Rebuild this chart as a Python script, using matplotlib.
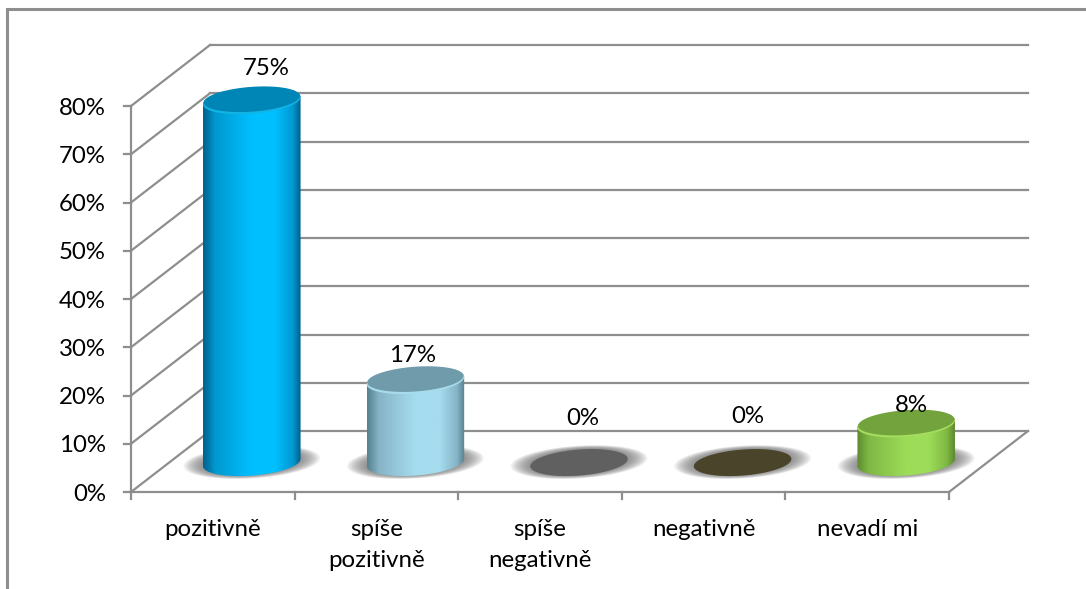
import numpy as np
import matplotlib
matplotlib.use('Agg')
import matplotlib.pyplot as plt
from matplotlib.patches import Polygon
from matplotlib.colors import to_rgb

categories = ['pozitivně', 'spíše\npozitivně', 'spíše\nnegativně', 'negativně', 'nevadí mi']
values = [75, 17, 0, 0, 8]
value_labels = ['75%', '17%', '0%', '0%', '8%']
y_ticks = [0, 10, 20, 30, 40, 50, 60, 70, 80]

# side shade, mid tone, highlight, cap, rim
bar_colors = [
    ('#005f8c', '#0098cf', '#00bfff', '#0086b6', '#12b4e6'),
    ('#55808f', '#86b4c6', '#a6dcef', '#6f9bab', '#a8dcec'),
    ('#606060', '#606060', '#606060', '#606060', '#606060'),
    ('#4a442a', '#4a442a', '#4a442a', '#4a442a', '#4a442a'),
    ('#5e8a2e', '#80b844', '#9cdc58', '#72a33d', '#a4dc60'),
]
# label nudges from the top of each cylinder, in points
label_nudge = [(10, 23), (-2, 18), (3, 32), (4, 33), (4, 13)]

PX_X = 163.6   # px per category
PX_Y = 4.825   # px per percent
X0 = 131
Y0 = 492
GRID = '#8e8e8e'
DEPTH_X = 79 / PX_X
DEPTH_Y = 61 / PX_Y
RAD = 47 / PX_X
SHEAR = 13 / PX_X
HALF_D = 13.5 / PX_Y
BASE_X = 0.5 + 39 / PX_X
BASE_Y = 6.1
FS = 17.3

plt.rcParams['font.family'] = ['Lato', 'DejaVu Sans']

fig = plt.figure(figsize=(10.86, 5.89), dpi=100)
ax = fig.add_axes([0, 0, 1, 1])
ax.axis('off')
xlim = (-X0 / PX_X, (1086 - X0) / PX_X)
ylim = ((Y0 - 589) / PX_Y, Y0 / PX_Y)


def ellipse(cx, cy, sx=1.0, sd=1.0, t=None):
    if t is None:
        t = np.linspace(0, 2 * np.pi, 120)
    x = cx + RAD * sx * np.cos(t) + SHEAR * sd * np.sin(t)
    y = cy + HALF_D * sd * np.sin(t)
    return np.column_stack([x, y])


def gradient(shade, mid, high, n=200):
    pos = [0, 0.12, 0.5, 0.74, 0.92, 1]
    cols = np.array([to_rgb(c) for c in (shade, mid, high, high, mid, shade)])
    u = np.linspace(0, 1, n)
    return np.stack([np.interp(u, pos, cols[:, i]) for i in range(3)], axis=1)[None, :, :]


# chart frame, cut off by the edge on the right and bottom
frame_x = np.array([7, 7, 1086])
frame_y = np.array([589, 9, 9])
ax.plot((frame_x - X0) / PX_X, (Y0 - frame_y) / PX_Y, color=GRID, lw=2.2, solid_joinstyle='miter')

# walls and floor
n = len(categories)
for v in y_ticks:
    ax.plot([0, DEPTH_X], [v, v + DEPTH_Y], color=GRID, lw=1.6)
    ax.plot([DEPTH_X, n + DEPTH_X], [v + DEPTH_Y, v + DEPTH_Y], color=GRID, lw=1.6)
    ax.plot([-7 / PX_X, 0], [v, v], color=GRID, lw=1.6)
    ax.annotate(f'{v}%', (0, v), xytext=(-18, -1.5), textcoords='offset points',
                ha='right', va='center', fontsize=FS, color='black')
ax.plot([0, 0], [0, y_ticks[-1]], color=GRID, lw=1.6)
ax.plot([0, n], [0, 0], color=GRID, lw=1.6)
ax.plot([n, n + DEPTH_X], [0, DEPTH_Y], color=GRID, lw=1.6)
for i in range(n + 1):
    ax.plot([i, i], [0, -7 / PX_Y], color=GRID, lw=1.6)

for i, (val, cols) in enumerate(zip(values, bar_colors)):
    cx = i + BASE_X
    top = BASE_Y + val

    # soft shadow on the floor
    for s in np.linspace(1.42, 1.02, 22):
        sd = 1 + (s - 1) * 0.6
        ax.add_patch(Polygon(ellipse(cx, BASE_Y + 0.1, s, sd), closed=True, fc='#707070', ec='none',
                             alpha=0.05, zorder=3))

    if val > 0:
        t0 = np.arctan2(SHEAR, RAD)
        low = ellipse(cx, BASE_Y, t=np.linspace(t0 + np.pi, t0 + 2 * np.pi, 80))
        high = ellipse(cx, top, t=np.linspace(t0, t0 + np.pi, 80))
        outline = np.vstack([low, high])
        body = Polygon(outline, closed=True, fc='none', ec='none', zorder=4)
        ax.add_patch(body)
        im = ax.imshow(gradient(*cols[:3]), aspect='auto', zorder=4,
                       extent=(outline[:, 0].min(), outline[:, 0].max(), BASE_Y - 4, top + 4))
        im.set_clip_path(body)
        ax.add_patch(Polygon(ellipse(cx, top), closed=True, fc=cols[4], ec='none', zorder=5))
        ax.add_patch(Polygon(ellipse(cx, top + 0.3, 0.99, 0.95), closed=True, fc=cols[3], ec='none', zorder=6))
    else:
        ax.add_patch(Polygon(ellipse(cx, top), closed=True, fc=cols[3], ec='none', zorder=5))

    ax.annotate(value_labels[i], (cx, top), xytext=label_nudge[i], textcoords='offset points',
                ha='center', va='center', fontsize=FS, color='black', zorder=8)
    ax.text(i + 0.5, -27 / PX_Y, categories[i], ha='center', va='top', fontsize=FS,
            linespacing=1.6, color='black', zorder=8)

ax.set_xlim(*xlim)
ax.set_ylim(*ylim)
fig.savefig('out.png', dpi=100, facecolor='white')
